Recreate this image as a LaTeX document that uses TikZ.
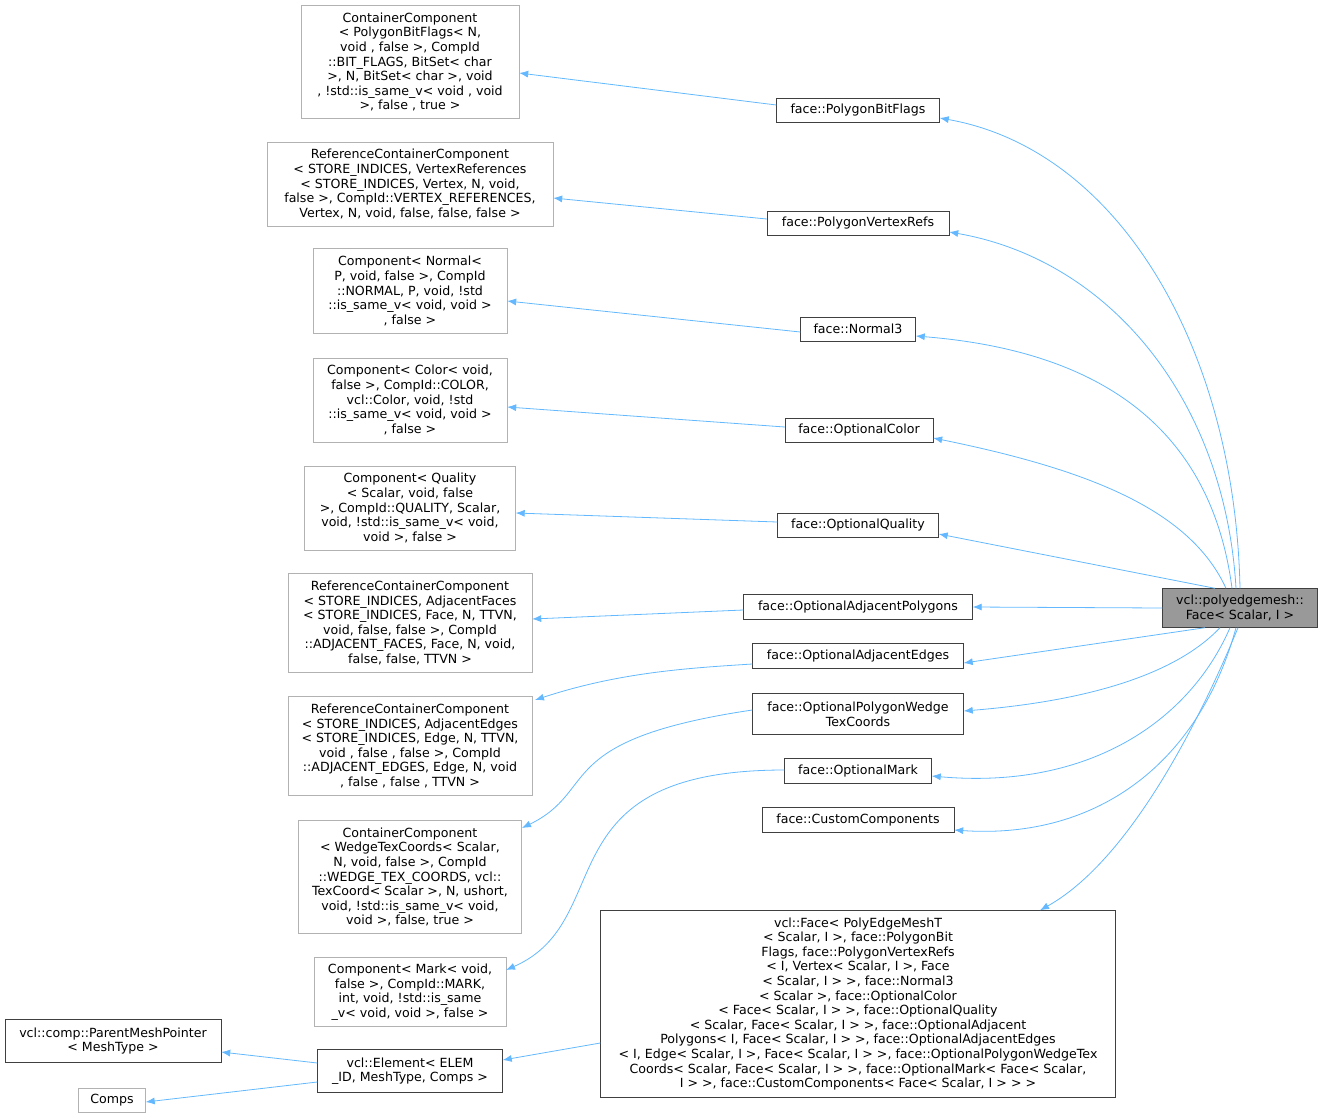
\documentclass[tikz,border=0pt]{standalone}
\usepackage{fontspec}
\setmainfont{DejaVu Sans}
\usetikzlibrary{arrows.meta}
\definecolor{edgeblue}{HTML}{63B8FF}
\definecolor{rootgray}{HTML}{999999}
\tikzset{base/.style={draw, rectangle, align=center, inner sep=2pt, font=\fontsize{12.6}{14.6}\selectfont},
  outer/.style={base, draw=black!30},
  own/.style={base, draw=black!75},
  edge/.style={draw=edgeblue, line width=0.8pt, {Latex[length=9pt,width=7pt]}-}}
\begin{document}
\begin{tikzpicture}[x=1pt, y=-1pt]
\useasboundingbox (0,0) rectangle (1323,1119);
% base classes, left column
\node[outer, minimum width=218, minimum height=113] (cBitFlags) at (410,62) {ContainerComponent\\< PolygonBitFlags< N,\\ void , false  >, CompId\\::BIT\_FLAGS, BitSet< char\\ >, N, BitSet< char >, void\\ , !std::is\_same\_v< void , void\\ >, false , true >};
\node[outer, minimum width=286, minimum height=84] (cVertexRefs) at (410,184) {ReferenceContainerComponent\\< STORE\_INDICES, VertexReferences\\< STORE\_INDICES, Vertex, N, void,\\ false >, CompId::VERTEX\_REFERENCES,\\Vertex, N, void, false, false, false >};
\node[outer, minimum width=194, minimum height=85] (cNormal) at (410,291) {Component< Normal<\\P, void, false >, CompId\\::NORMAL, P, void, !std\\::is\_same\_v< void, void >\\, false >};
\node[outer, minimum width=194, minimum height=84] (cColor) at (410,400) {Component< Color< void,\\false >, CompId::COLOR,\\vcl::Color, void, !std\\::is\_same\_v< void, void >\\, false >};
\node[outer, minimum width=211, minimum height=84] (cQuality) at (410,508) {Component< Quality\\< Scalar, void, false\\>, CompId::QUALITY, Scalar,\\void, !std::is\_same\_v< void,\\void >, false >};
\node[outer, minimum width=244, minimum height=99] (cAdjFaces) at (410,623) {ReferenceContainerComponent\\< STORE\_INDICES, AdjacentFaces\\< STORE\_INDICES, Face, N, TTVN,\\void, false, false >, CompId\\::ADJACENT\_FACES, Face, N, void,\\false, false, TTVN >};
\node[outer, minimum width=244, minimum height=99] (cAdjEdges) at (410,746) {ReferenceContainerComponent\\< STORE\_INDICES, AdjacentEdges\\< STORE\_INDICES, Edge, N, TTVN,\\void , false , false  >, CompId\\::ADJACENT\_EDGES, Edge, N, void\\, false , false , TTVN >};
\node[outer, minimum width=223, minimum height=113] (cWedge) at (410,877) {ContainerComponent\\< WedgeTexCoords< Scalar,\\N, void, false >, CompId\\::WEDGE\_TEX\_COORDS, vcl::\\TexCoord< Scalar >, N, ushort,\\void, !std::is\_same\_v< void,\\void >, false, true >};
\node[outer, minimum width=192, minimum height=69] (cMark) at (410,992) {Component< Mark< void,\\false >, CompId::MARK,\\int, void, !std::is\_same\\\_v< void, void >, false >};
\node[own, minimum width=216, minimum height=43] (parentPtr) at (113,1041) {vcl::comp::ParentMeshPointer\\< MeshType >};
\node[outer, minimum width=67, minimum height=24] (comps) at (112,1100) {Comps};
\node[own, minimum width=185, minimum height=43] (element) at (410,1071) {vcl::Element< ELEM\\\_ID, MeshType, Comps >};
% face components, middle column
\node[own, minimum width=163, minimum height=24] (fBitFlags) at (858,110) {face::PolygonBitFlags};
\node[own, minimum width=182, minimum height=24] (fVertexRefs) at (858,223) {face::PolygonVertexRefs};
\node[own, minimum width=115, minimum height=24] (fNormal) at (858,329) {face::Normal3};
\node[own, minimum width=148, minimum height=24] (fColor) at (859,430) {face::OptionalColor};
\node[own, minimum width=161, minimum height=24] (fQuality) at (858,525) {face::OptionalQuality};
\node[own, minimum width=229, minimum height=25] (fAdjPoly) at (858,607) {face::OptionalAdjacentPolygons};
\node[own, minimum width=211, minimum height=25] (fAdjEdges) at (858,656) {face::OptionalAdjacentEdges};
\node[own, minimum width=211, minimum height=41] (fWedge) at (858,714) {face::OptionalPolygonWedge\\TexCoords};
\node[own, minimum width=147, minimum height=25] (fMark) at (858,771) {face::OptionalMark};
\node[own, minimum width=192, minimum height=25] (fCustom) at (858,820) {face::CustomComponents};
\node[own, minimum width=515, minimum height=187] (vclFace) at (858,1004) {vcl::Face< PolyEdgeMeshT\\< Scalar, I >, face::PolygonBit\\Flags, face::PolygonVertexRefs\\< I, Vertex< Scalar, I >, Face\\< Scalar, I > >, face::Normal3\\< Scalar >, face::OptionalColor\\< Face< Scalar, I > >, face::OptionalQuality\\< Scalar, Face< Scalar, I > >, face::OptionalAdjacent\\Polygons< I, Face< Scalar, I > >, face::OptionalAdjacentEdges\\< I, Edge< Scalar, I >, Face< Scalar, I > >, face::OptionalPolygonWedgeTex\\Coords< Scalar, Face< Scalar, I > >, face::OptionalMark< Face< Scalar,\\I > >, face::CustomComponents< Face< Scalar, I > > >};
\node[own, fill=rootgray, minimum width=155, minimum height=39] (root) at (1240,608) {vcl::polyedgemesh::\\Face< Scalar, I >};
% component edges
\draw[edge] ([yshift=-11]cBitFlags.east) -- ([yshift=5]fBitFlags.west);
\draw[edge] ([yshift=-14]cVertexRefs.east) -- ([yshift=4]fVertexRefs.west);
\draw[edge] ([yshift=-10]cNormal.east) -- ([yshift=-3]fNormal.west);
\draw[edge] ([yshift=-7]cColor.east) -- ([yshift=3]fColor.west);
\draw[edge] ([yshift=-5]cQuality.east) -- ([yshift=3]fQuality.west);
\draw[edge] ([yshift=4]cAdjFaces.east) -- ([yshift=-3]fAdjPoly.west);
\draw[edge] (535,700) .. controls (620,672) and (690,668) .. ([yshift=-8]fAdjEdges.west);
\draw[edge] (522,828) .. controls (600,790) and (550,740) .. ([yshift=4]fWedge.west);
\draw[edge] (506,970) .. controls (620,920) and (540,770) .. ([yshift=1]fMark.west);
% root edges
\draw[edge] ([yshift=-8]fBitFlags.east) .. controls (1120,150) and (1235,350) .. ([xshift=0]root.north);
\draw[edge] ([yshift=-9]fVertexRefs.east) .. controls (1110,260) and (1225,400) .. ([xshift=-4]root.north);
\draw[edge] ([yshift=-7]fNormal.east) .. controls (1090,350) and (1210,420) .. ([xshift=-8]root.north);
\draw[edge] ([yshift=-8]fColor.east) .. controls (1090,470) and (1190,510) .. ([xshift=-14]root.north);
\draw[edge] ([yshift=-9]fQuality.east) -- ([xshift=-25]root.north);
\draw[edge] (fAdjPoly.east) -- ([yshift=0]root.west);
\draw[edge] ([yshift=-7]fAdjEdges.east) -- ([xshift=-35]root.south);
\draw[edge] ([yshift=3]fWedge.east) .. controls (1100,700) and (1180,670) .. ([xshift=-20]root.south);
\draw[edge] ([yshift=-5]fMark.east) .. controls (1090,790) and (1190,720) .. ([xshift=-10]root.south);
\draw[edge] ([yshift=-10]fCustom.east) .. controls (1100,840) and (1200,760) .. ([xshift=-4]root.south);
\draw[edge] ([xshift=182]vclFace.north) .. controls (1130,860) and (1200,720) .. ([xshift=-2]root.south);
% element edges
\draw[edge] ([yshift=11]element.east) -- ([yshift=-39]vclFace.west);
\draw[edge] ([yshift=-11]parentPtr.east) -- ([yshift=8]element.west);
\draw[edge] ([yshift=-2]comps.east) -- ([yshift=-11]element.west);
\end{tikzpicture}
\end{document}
